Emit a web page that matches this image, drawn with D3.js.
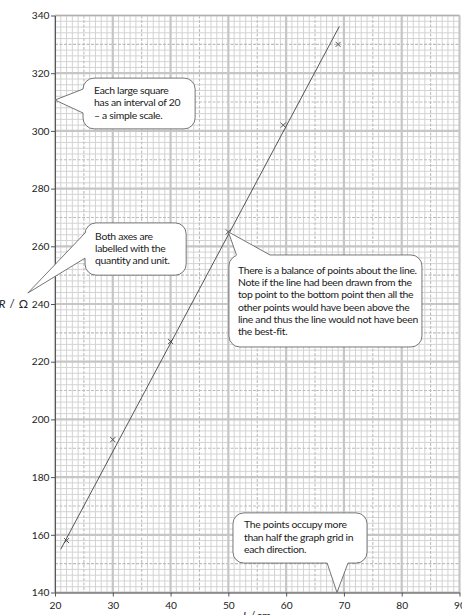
<!DOCTYPE html>
<html>
<head>
<meta charset="utf-8">
<script src="https://cdn.jsdelivr.net/npm/d3@7"></script>
<style>
  html, body { margin: 0; padding: 0; background: #fff; }
  svg { display: block; }
  text { font-family: Lato, "Open Sans", sans-serif; fill: #222; }
</style>
</head>
<body>
<svg id="chart" width="462" height="615"></svg>
<script>
// Measured resistance R (Ω) against wire length L (cm)
const lengthCm = [22, 30, 40, 50, 59.5, 69];
const resistance = [158, 193, 227, 265, 302, 330];

// Hand-drawn best-fit line, given by its two end points
const fitLength = [21, 69.2];
const fitResistance = [155, 336.2];

// Axis tick labels
const xTicks = [20, 30, 40, 50, 60, 70, 80, 90];
const yTicks = [140, 160, 180, 200, 220, 240, 260, 280, 300, 320, 340];

// Callout notes: box corners and pointer tip in data units
const noteText = [
  ["Each large square", "has an interval of 20", "\u2013 a simple scale."],
  ["Both axes are", "labelled with the", "quantity and unit."],
  ["There is a balance of points about the line.",
   "Note if the line had been drawn from the",
   "top point to the bottom point then all the",
   "other points would have been above the",
   "line and thus the line would not have been",
   "the best-fit."],
  ["The points occupy more", "than half the graph grid in", "each direction."]
];
const noteBox = [
  [24.85, 318.3, 44.25, 300.7],
  [25.2, 268.1, 42.7, 250.0],
  [50.1, 257.0, 83.5, 225.1],
  [50.8, 167.6, 74.0, 150.2]
];
const noteTip = [[20, 310.7], [15.3, 243.8], [50, 265], [68.8, 140]];
// where the pointer leaves the box: side and the two base points (data units)
const noteBase = [
  ["left", 314.5, 306.2],
  ["left", 264.6, 255.9],
  ["top", 51.4, 57.2],
  ["bottom", 67.1, 70.7]
];

const svg = d3.select("#chart");
const x = d3.scaleLinear().domain([20, 90]).range([55, 459.5]);
const y = d3.scaleLinear().domain([140, 340]).range([592.5, 15.5]);

// ---- graph-paper grid ----
const grid = svg.append("g");
const xr = x.range(), yr = y.range();
const xLines = d3.range(20, 91, 1);
const yLines = d3.range(140, 341, 2);
function xClass(v) { return v % 10 === 0 ? 2 : (v % 5 === 0 ? 1 : 0); }
function yClass(v) { return v % 20 === 0 ? 2 : (v % 10 === 0 ? 1 : 0); }
const gStyle = [
  { c: "#d3d3d3", w: 1 },
  { c: "#bdbdbd", w: 1.1 },
  { c: "#c6c6c6", w: 2.2 }
];
[0, 1, 2].forEach(level => {
  grid.selectAll(null)
    .data(xLines.filter(v => xClass(v) === level))
    .enter().append("line")
    .attr("x1", d => x(d)).attr("x2", d => x(d))
    .attr("y1", yr[1]).attr("y2", yr[0])
    .attr("stroke", gStyle[level].c).attr("stroke-width", gStyle[level].w)
    .attr("stroke-dasharray", level === 1 ? "3,1.5" : null);
  grid.selectAll(null)
    .data(yLines.filter(v => yClass(v) === level))
    .enter().append("line")
    .attr("y1", d => y(d)).attr("y2", d => y(d))
    .attr("x1", xr[0]).attr("x2", xr[1])
    .attr("stroke", gStyle[level].c).attr("stroke-width", gStyle[level].w)
    .attr("stroke-dasharray", level === 1 ? "3,1.5" : null);
});
// top border of the sheet
svg.append("line")
  .attr("x1", xr[0]).attr("x2", xr[1]).attr("y1", yr[1]).attr("y2", yr[1])
  .attr("stroke", "#b0b0b0").attr("stroke-width", 1.2);

// ---- axes ----
const xAxis = svg.append("g")
  .attr("transform", `translate(0,${yr[0]})`)
  .call(d3.axisBottom(x).tickValues(xTicks).tickSize(4).tickSizeOuter(0));
const yAxis = svg.append("g")
  .attr("transform", `translate(${xr[0]},0)`)
  .call(d3.axisLeft(y).tickValues(yTicks).tickSize(4).tickSizeOuter(0));
[xAxis, yAxis].forEach(a => {
  a.select(".domain").attr("stroke", "#555").attr("stroke-width", 1);
  a.selectAll(".tick line").attr("stroke", "#555");
  a.selectAll(".tick text")
    .attr("fill", "#333")
    .style("font-family", "Lato, 'Open Sans', sans-serif")
    .style("font-size", "10.2px");
});
xAxis.selectAll(".tick text").attr("dy", "0.9em");
yAxis.selectAll(".tick text").attr("x", -5.5);

// axis titles
const rTitle = svg.append("text")
  .attr("x", 28).attr("y", y(240)).attr("dy", "0.35em")
  .attr("text-anchor", "end").style("font-size", "11.5px");
rTitle.append("tspan").attr("font-style", "italic").text("R");
rTitle.append("tspan").attr("dx", 4).text("/");
rTitle.append("tspan").attr("dx", 4).text("\u03A9");

const lTitle = svg.append("text")
  .attr("x", 257).attr("y", 620)
  .attr("text-anchor", "middle").style("font-size", "11px");
lTitle.append("tspan").attr("font-style", "italic").text("L");
lTitle.append("tspan").attr("dx", 2).text("/");
lTitle.append("tspan").attr("dx", 2).text("cm");

// ---- best-fit line ----
svg.append("line")
  .attr("x1", x(fitLength[0])).attr("y1", y(fitResistance[0]))
  .attr("x2", x(fitLength[1])).attr("y2", y(fitResistance[1]))
  .attr("stroke", "#444").attr("stroke-width", 0.9);

// ---- data crosses ----
const s = 2.5;
svg.append("g").selectAll("path")
  .data(lengthCm.map((l, i) => [l, resistance[i]]))
  .enter().append("path")
  .attr("d", d => {
    const cx = x(d[0]), cy = y(d[1]);
    return `M${cx - s},${cy - s}L${cx + s},${cy + s}M${cx - s},${cy + s}L${cx + s},${cy - s}`;
  })
  .attr("stroke", "#444").attr("stroke-width", 0.9).attr("fill", "none");

// ---- callouts ----
const notes = svg.append("g");
const textPad = [[11, 16], [10, 17], [9, 19], [11, 15.5]];
noteText.forEach((lines, i) => {
  const [bx0, by0, bx1, by1] = noteBox[i];
  const L = x(bx0), T = y(by0), R = x(bx1), B = y(by1);
  const g = notes.append("g");
  g.append("rect")
    .attr("x", L).attr("y", T).attr("width", R - L).attr("height", B - T)
    .attr("rx", 11).attr("ry", 11)
    .attr("fill", "#fff").attr("stroke", "#666").attr("stroke-width", 0.9);

  const tip = [x(noteTip[i][0]), y(noteTip[i][1])];
  const [side, a, b] = noteBase[i];
  let p1, p2, inset;
  if (side === "left") { p1 = [L, y(a)]; p2 = [L, y(b)]; inset = [2, 0]; }
  else if (side === "top") { p1 = [x(a), T]; p2 = [x(b), T]; inset = [0, 2]; }
  else { p1 = [x(a), B]; p2 = [x(b), B]; inset = [0, -2]; }
  // white wedge hides the box border under the pointer
  g.append("path")
    .attr("d", `M${tip}L${p1}L${p1[0] + inset[0]},${p1[1] + inset[1]}` +
               `L${p2[0] + inset[0]},${p2[1] + inset[1]}L${p2}Z`)
    .attr("fill", "#fff");
  g.append("path")
    .attr("d", `M${p1}L${tip}L${p2}`)
    .attr("fill", "none").attr("stroke", "#666").attr("stroke-width", 0.9);

  g.selectAll("text")
    .data(lines).enter().append("text")
    .attr("x", L + textPad[i][0])
    .attr("y", (d, k) => T + textPad[i][1] + k * 12.2)
    .style("font-size", "10.4px")
    .style("letter-spacing", "-0.3px")
    .text(d => d);
});
</script>
</body>
</html>
